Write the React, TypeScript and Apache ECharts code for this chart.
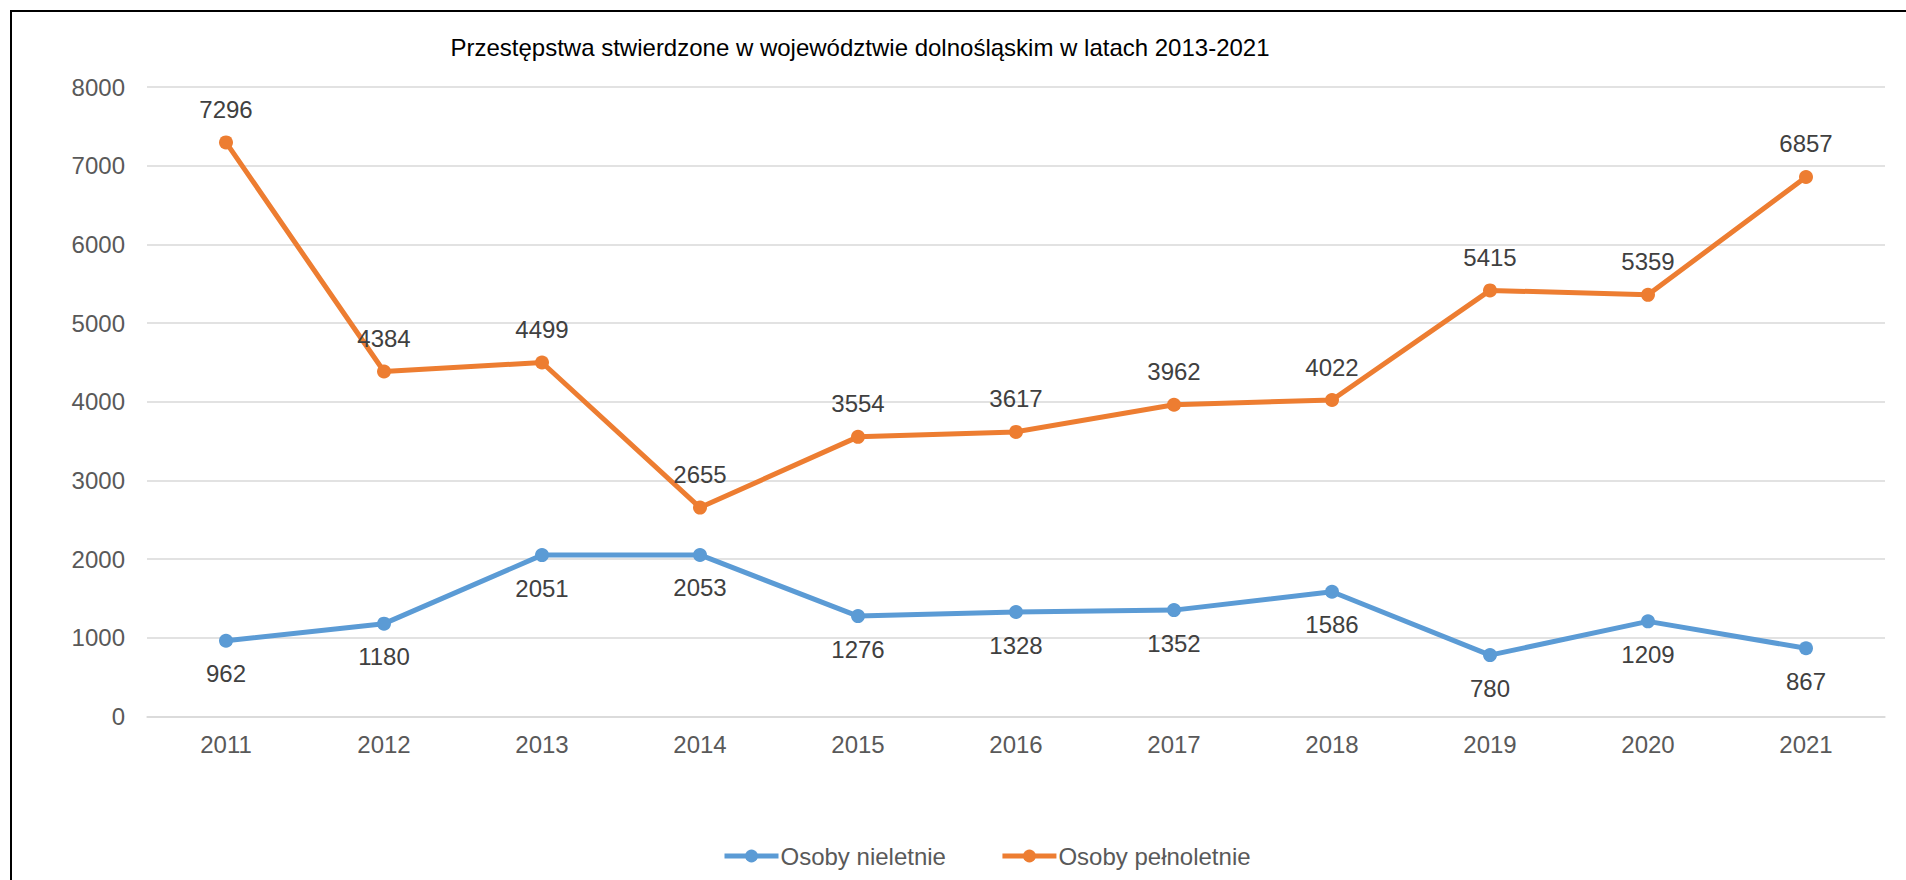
import React, { useEffect, useRef } from "react";
import * as echarts from "echarts";

const years = ["2011", "2012", "2013", "2014", "2015", "2016", "2017", "2018", "2019", "2020", "2021"];
const nieletnie = [962, 1180, 2051, 2053, 1276, 1328, 1352, 1586, 780, 1209, 867];
const pelnoletnie = [7296, 4384, 4499, 2655, 3554, 3617, 3962, 4022, 5415, 5359, 6857];
const seriesNames = ["Osoby nieletnie", "Osoby pełnoletnie"];
const titleText = "Przestępstwa stwierdzone w województwie dolnośląskim w latach 2013-2021";

const FONT = "'Liberation Sans', Arial, sans-serif";
const GRAY = "#595959";

export default function App() {
  const ref = useRef<HTMLDivElement>(null);
  useEffect(() => {
    if (!ref.current) return;
    const chart = echarts.init(ref.current, null, { renderer: "svg" });
    chart.setOption({
      animation: false,
      backgroundColor: "#ffffff",
      title: {
        text: titleText,
        left: 855,
        top: 30,
        textAlign: "center",
        textStyle: { fontFamily: FONT, fontSize: 24, fontWeight: "normal", color: "#000000" },
      },
      graphic: [
        {
          type: "rect",
          shape: { x: 11, y: 11, width: 2000, height: 1000 },
          style: { fill: "none", stroke: "#000000", lineWidth: 2 },
          silent: true,
        },
      ],
      legend: {
        left: 717,
        top: 839,
        itemWidth: 54,
        itemHeight: 16,
        itemGap: 54,
        lineStyle: { width: 5 },
        textStyle: { fontFamily: FONT, fontSize: 24, color: GRAY, padding: [0, 0, 0, -3] },
        data: seriesNames,
      },
      grid: { left: 147, right: 21, top: 87, bottom: 163.5, containLabel: false },
      xAxis: {
        type: "category",
        data: years,
        boundaryGap: true,
        axisLine: { show: true, lineStyle: { color: "#D9D9D9", width: 1.5 } },
        axisTick: { show: false },
        axisLabel: { fontFamily: FONT, fontSize: 24, color: GRAY, margin: 16 },
      },
      yAxis: {
        type: "value",
        min: 0,
        max: 8000,
        interval: 1000,
        axisLine: { show: false },
        axisTick: { show: false },
        axisLabel: {
          fontFamily: FONT,
          fontSize: 24,
          color: GRAY,
          margin: 22,
          formatter: (v: number) => String(v),
        },
        splitLine: { lineStyle: { color: "#D9D9D9", width: 1.5 } },
      },
      series: [
        {
          name: seriesNames[0],
          type: "line",
          data: nieletnie,
          color: "#5B9BD5",
          symbol: "circle",
          symbolSize: 14,
          lineStyle: { width: 5, color: "#5B9BD5" },
          itemStyle: { color: "#5B9BD5" },
          label: {
            show: true,
            position: "bottom",
            distance: 14,
            fontFamily: FONT,
            fontSize: 24,
            color: "#404040",
          },
        },
        {
          name: seriesNames[1],
          type: "line",
          data: pelnoletnie,
          color: "#ED7D31",
          symbol: "circle",
          symbolSize: 14,
          lineStyle: { width: 5, color: "#ED7D31" },
          itemStyle: { color: "#ED7D31" },
          label: {
            show: true,
            position: "top",
            distance: 14,
            fontFamily: FONT,
            fontSize: 24,
            color: "#404040",
          },
        },
      ],
    });
    return () => chart.dispose();
  }, []);
  return (
    <div
      ref={ref}
      style={{ position: "fixed", left: 0, top: 0, width: 1906, height: 880, background: "#fff" }}
    />
  );
}
